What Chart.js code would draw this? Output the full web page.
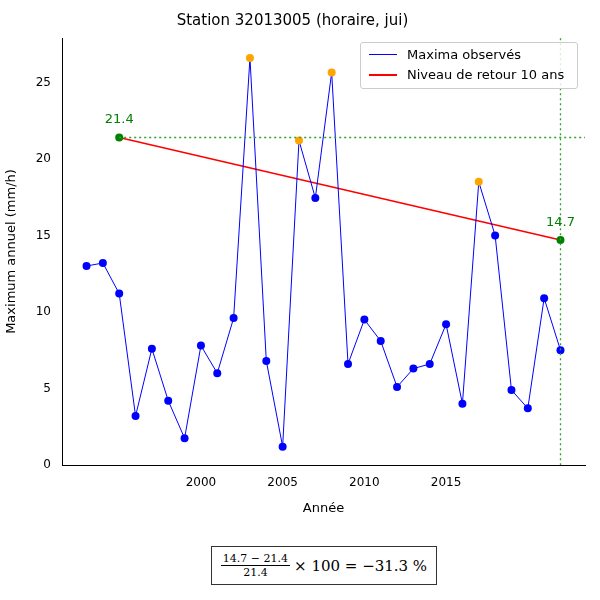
<!DOCTYPE html>
<html><head><meta charset="utf-8">
<script src="https://cdn.jsdelivr.net/npm/chart.js@4/dist/chart.umd.min.js"></script>
<style>
body{margin:0;width:600px;height:600px;background:#fff;font-family:"DejaVu Sans",sans-serif;position:relative}
#wrap{position:absolute;left:0;top:0;width:600px;height:520px}
#leg{position:absolute;left:360px;top:42px;width:216px;height:45px;border:1px solid #ccc;border-radius:3px;background:rgba(255,255,255,0.8);font-size:13px;color:#000}
.r{position:absolute;left:8px;display:flex;align-items:center}
.r span{display:inline-block;width:28px;margin-right:10px}
#f{position:absolute;left:211px;top:546px;width:224px;height:37px;border:1px solid #333;font-size:15px;display:flex;align-items:center;justify-content:center;font-family:"DejaVu Serif",serif}
.fr{display:inline-flex;flex-direction:column;align-items:center;font-size:11px;margin-right:4px}
.fr .n{border-bottom:1px solid #000;padding:0 2px}
</style></head><body>
<div id="wrap"><canvas id="c" width="600" height="520"></canvas></div>
<div id="leg">
<div class="r" style="top:4px"><span style="border-top:1px solid blue"></span>Maxima observés</div>
<div class="r" style="top:24px"><span style="border-top:2px solid red"></span>Niveau de retour 10 ans</div>
</div>
<div id="f"><span class="fr"><span class="n">14.7 − 21.4</span><span>21.4</span></span>× 100 = −31.3 %</div>
<script>
const years=[1993,1994,1995,1996,1997,1998,1999,2000,2001,2002,2003,2004,2005,2006,2007,2008,2009,2010,2011,2012,2013,2014,2015,2016,2017,2018,2019,2020,2021,2022];
const maxima=[13.0,13.2,11.2,3.2,7.6,4.2,1.75,7.8,6.0,9.6,26.6,6.8,1.2,21.2,17.45,25.65,6.6,9.5,8.1,5.1,6.3,6.6,9.2,4.0,18.5,15.0,4.9,3.7,10.9,7.5];
const exceedYears=[2003,2006,2008,2017];
const retYears=[1995,2022];
const retVals=[21.4,14.7];
const pts=years.map((y,i)=>({x:y,y:maxima[i]}));
const labelPlugin={id:'lbl',afterDatasetsDraw(ch){const c=ch.ctx,x=ch.scales.x,y=ch.scales.y;c.save();c.fillStyle='green';c.font='13px "DejaVu Sans"';c.textAlign='center';
c.fillText('21.4',x.getPixelForValue(1995),y.getPixelForValue(21.4)-14);
c.fillText('14.7',x.getPixelForValue(2022),y.getPixelForValue(14.7)-14);c.restore();}};
new Chart(document.getElementById('c'),{type:'scatter',
data:{datasets:[
{data:[{x:1995,y:21.4},{x:2023.5,y:21.4}],showLine:true,borderColor:'#2ca02c',borderWidth:1.3,borderDash:[2,3],pointRadius:0},
{data:[{x:2022,y:-1},{x:2022,y:30}],showLine:true,borderColor:'#2ca02c',borderWidth:1.3,borderDash:[2,3],pointRadius:0},
{data:pts,showLine:true,borderColor:'blue',borderWidth:1,pointRadius:4,pointBackgroundColor:pts.map(p=>exceedYears.includes(p.x)?'orange':'blue'),pointBorderWidth:0},
{data:retYears.map((y,i)=>({x:y,y:retVals[i]})),showLine:true,borderColor:'red',borderWidth:1.6,pointRadius:4,pointBackgroundColor:'green',pointBorderWidth:0}
]},
options:{responsive:false,animation:false,devicePixelRatio:1,
layout:{padding:{left:0,right:15,top:0,bottom:0}},
plugins:{legend:{display:false},tooltip:{enabled:false},
title:{display:true,text:'Station 32013005 (horaire, jui)',color:'#000',font:{size:15,weight:'normal',family:'DejaVu Sans'},padding:{top:12,bottom:8}}},
scales:{
x:{type:'linear',min:1991.5,max:2023.5,grid:{display:false},border:{color:'#000'},ticks:{stepSize:5,color:'#000',font:{size:12,family:'DejaVu Sans'},callback:v=>v%5===0?String(v):''},
title:{display:true,text:'Année',color:'#000',font:{size:13,family:'DejaVu Sans'}},afterFit(s){s.height=55;}},
y:{min:0,max:27.9,grid:{display:false},border:{color:'#000'},ticks:{stepSize:5,color:'#000',font:{size:12,family:'DejaVu Sans'},callback:v=>v%5===0?String(v):''},
title:{display:true,text:'Maximum annuel (mm/h)',color:'#000',font:{size:13,family:'DejaVu Sans'}},afterFit(s){s.width=62;}}
}},plugins:[labelPlugin]});
</script></body></html>
